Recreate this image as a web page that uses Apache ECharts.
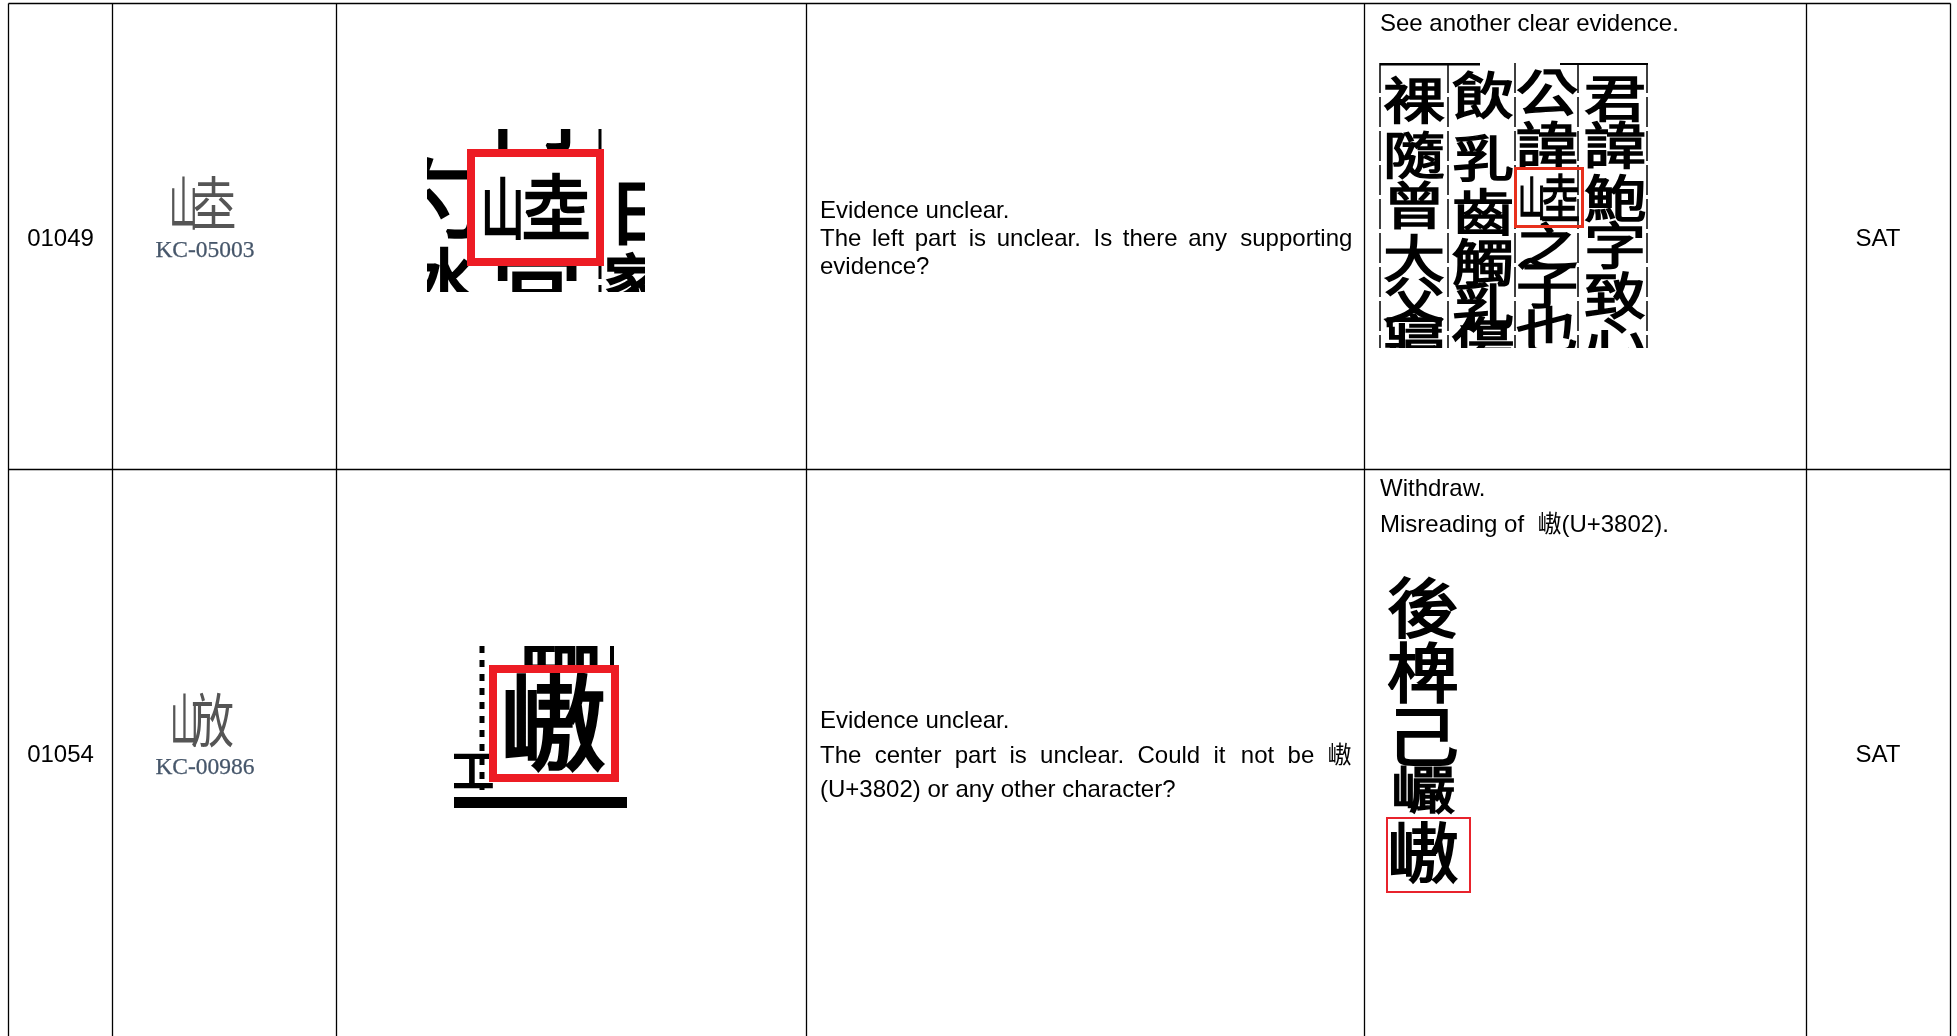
<!DOCTYPE html>
<html><head><meta charset="utf-8">
<style>html,body{margin:0;padding:0;background:#fff}#c{width:1957px;height:1036px}</style>
<script src="https://cdn.jsdelivr.net/npm/echarts@6/dist/echarts.min.js"></script>
</head><body><div id="c"></div>
<script>
// ---- table content ----
const ids = ['01049', '01054'];
const sourceCodes = ['KC-05003', 'KC-00986'];
const statusValues = ['SAT', 'SAT'];
const commentLines = [
  ['Evidence unclear.', 'The left part is unclear. Is there any supporting', 'evidence?'],
  ['Evidence unclear.', 'The center part is unclear. Could it not be \u3802', '(U+3802) or any other character?']
];
const replyLines = [
  ['See another clear evidence.'],
  ['Withdraw.', 'Misreading of  \u3802(U+3802).']
];
const scanColumnsA = [
  ['\u88f8', '\u96a8', '\u66fe', '\u5927', '\u7236', '\u5be2'],
  ['\u98f2', '\u4e73', '\u9f52', '\u89f8', '\u4e73', '\u50b7'],
  ['\u516c', '\u8af1', '', '\u4e4b', '\u5b50', '\u4e5f'],
  ['\u541b', '\u8af1', '\u9b91', '\u5b57', '\u81f4', '\u5fc3']
];
const scanColumnB = ['\u5f8c', '\u6911', '\u5df1', '\u5dd7', '\u3802'];

// ---- layout ----
const W = 1957, H = 1036;
const colX = [8.5, 112.5, 336.5, 806.5, 1364.5, 1806.5, 1950.5];
const rowY = [3.5, 469.5];
const rowCenter = [239, 755];
const SANS = "'Liberation Sans','Noto Sans CJK TC',sans-serif";
const CJK = "'Noto Sans CJK TC'";
const FONT = '24px ' + SANS;

const mctx = document.createElement('canvas').getContext('2d');
function justify(line, width) {
  mctx.font = FONT;
  const words = line.split(' ');
  const total = mctx.measureText(line).width;
  const extra = width - total;
  const hair = mctx.measureText('\u200A').width || 1;
  const space = mctx.measureText(' ').width;
  const gaps = words.length - 1;
  let out = words[0];
  let owed = 0;
  for (let i = 1; i < words.length; i++) {
    owed += extra / gaps;
    let pad = ' ';
    while (owed >= space) { pad += ' '; owed -= space; }
    while (owed >= hair) { pad += '\u200A'; owed -= hair; }
    out += pad + words[i];
  }
  return out;
}

function T(text, x, y, o) {
  o = o || {};
  return {
    type: 'text', x: x, y: y,
    scaleX: o.sx || 1, scaleY: o.sy || 1,
    style: {
      text: text, x: 0, y: 0,
      font: o.font || FONT,
      fill: o.fill || '#000',
      stroke: o.lw ? (o.stroke || o.fill || '#000') : undefined,
      lineWidth: o.lw || 0,
      textAlign: o.align || 'left',
      textVerticalAlign: 'middle'
    }
  };
}
function R(x, y, w, h, fill) {
  return { type: 'rect', shape: { x: x, y: y, width: w, height: h }, style: { fill: fill } };
}
function L(x1, y1, x2, y2, lw, dash, color) {
  return { type: 'line', shape: { x1, y1, x2, y2 },
    style: { stroke: color || '#000', lineWidth: lw || 1, lineDash: dash || null, fill: null } };
}
function Box(x, y, w, h, lw, color) {
  const i = lw / 2;
  return { type: 'rect', shape: { x: x + i, y: y + i, width: w - lw, height: h - lw },
    style: { fill: null, stroke: color, lineWidth: lw } };
}
function clipGroup(x, y, w, h, children) {
  return { type: 'group', clipPath: { type: 'rect', shape: { x, y, width: w, height: h } }, children };
}
function ink(size) { return size + 'px ' + CJK; }

function tableLines() {
  const out = [];
  colX.forEach(x => out.push(L(x, rowY[0], x, H, 1.3)));
  rowY.forEach(y => out.push(L(colX[0], y, colX[6], y, 1.5)));
  return out;
}

function textCells() {
  const out = [];
  ids.forEach((t, i) => {
    out.push(T(t, 60.5, rowCenter[i], { align: 'center' }));
    out.push(T(statusValues[i], 1878, rowCenter[i], { align: 'center' }));
    out.push(T(sourceCodes[i], 205, i ? 768 : 251, {
      font: "23.5px 'Liberation Serif'", fill: '#46566a', align: 'center', lw: 0.25 }));
  });
  const commentY = [[211, 239.5, 267], [721, 756, 790]];
  commentLines.forEach((lines, r) => lines.forEach((s, k) => {
    out.push(T(k === 1 ? justify(s, 532.5) : s, 820, commentY[r][k]));
  }));
  const replyY = [[24], [489, 525]];
  replyLines.forEach((lines, r) => lines.forEach((s, k) => out.push(T(s, 1380, replyY[r][k]))));
  return out;
}

function sourceGlyphs() {
  const thin = "58px 'Noto Sans CJK SC'";
  return [
    T('\u5c71', 169, 203, { font: thin, fill: '#555', sx: 0.5 }),
    T('\u5774', 191, 203, { font: thin, fill: '#555', sx: 0.78 }),
    T('\u5c71', 170, 720, { font: thin, fill: '#555', sx: 0.5 }),
    T('\u653e', 191, 720, { font: thin, fill: '#555', sx: 0.74 })
  ];
}

function cropA() {
  const o = (s) => ({ font: ink(s), fill: '#000', lw: 3 });
  return clipGroup(427, 129, 218, 163, [
    T('\u52fa', 400, 198, o(86)),
    T('\u5bae', 492, 292, o(90)),
    T('\u6c34', 412, 278, o(64)),
    T('\u65e5', 608, 212, o(70)),
    T('\u5bb6', 604, 280, o(56)),
    T('\u9580', 492, 112, o(84)),
    L(600, 129, 600, 292, 3, [20, 6]),
    R(475, 157, 121, 101, '#fff'),
    T('\u5c71', 481, 208, { font: ink(66), fill: '#000', lw: 2.5, sx: 0.66 }),
    T('\u5774', 522, 207, { font: ink(72), fill: '#000', lw: 2.5, sx: 0.95 }),
    Box(467, 149, 137, 117, 8, '#ed1c24')
  ]);
}

function cropB() {
  return clipGroup(454, 646, 173, 162, [
    T('\u81e8', 520, 640, { font: ink(80), fill: '#000', lw: 3 }),
    L(482, 646, 482, 790, 5, [7, 7]),
    L(612, 646, 612, 668, 4),
    T('\u5de5', 450, 770, { font: ink(44), fill: '#000', lw: 2 }),
    R(454, 797, 173, 11, '#000'),
    R(497, 673, 114, 101, '#fff'),
    T('\u3802', 500, 722, { font: ink(104), fill: '#000', lw: 3.5, sx: 1.02 }),
    Box(489, 665, 130, 117, 8, '#ed1c24')
  ]);
}

function scanA() {
  const colCenters = [1414, 1483, 1547, 1615];
  const rowsY = [
    [100, 155, 205, 258, 300, 338],
    [95, 158, 212, 262, 306, 340],
    [92, 145, 198, 246, 285, 330],
    [98, 145, 198, 245, 295, 340]
  ];
  const kids = [];
  scanColumnsA.forEach((col, c) => col.forEach((ch, r) => {
    if (ch) kids.push(T(ch, colCenters[c], rowsY[c][r], {
      font: ink(54), fill: '#000', lw: 1.7, align: 'center', sx: 1.15, sy: 0.92 }));
  }));
  kids.push(L(1380, 64, 1480, 64, 3));
  kids.push(L(1560, 64, 1648, 64, 2));
  [1380, 1448, 1515, 1578, 1647].forEach(x => kids.push(L(x, 63, x, 348, 1.5, [30, 4])));
  kids.push(T('\u5c71', 1518, 198, { font: ink(46), lw: 1.5, sx: 0.6 }));
  kids.push(T('\u5774', 1541, 198, { font: ink(52), lw: 1.5, sx: 0.75 }));
  kids.push(Box(1514, 167, 70, 61, 3, '#e8301c'));
  return clipGroup(1379, 63, 270, 285, kids);
}

function scanB() {
  const ys = [607, 672, 736, 789, 852];
  const kids = scanColumnB.map((ch, i) => T(ch, 1423, ys[i], {
    font: ink(i === 3 ? 56 : 62), fill: '#000', lw: 1.8, align: 'center', sx: 1.16, sy: i === 3 ? 0.92 : 1.05 }));
  kids.push(Box(1386, 817, 85, 76, 2, '#e8232c'));
  return { type: 'group', children: kids };
}

const chart = echarts.init(document.getElementById('c'), null, { renderer: 'canvas' });
chart.setOption({
  animation: false,
  backgroundColor: '#fff',
  grid: { left: 0, right: 0, top: 0, bottom: 0 },
  xAxis: { type: 'value', min: 0, max: W, show: false },
  yAxis: { type: 'value', min: 0, max: H, inverse: true, show: false },
  tooltip: { show: false },
  series: [{
    type: 'custom',
    coordinateSystem: 'cartesian2d',
    silent: true,
    clip: false,
    data: [[0, 0]],
    renderItem: function () {
      return { type: 'group', children: [
        cropA(), cropB(), scanA(), scanB()
      ].concat(sourceGlyphs(), textCells(), tableLines()) };
    }
  }]
});
</script></body></html>
